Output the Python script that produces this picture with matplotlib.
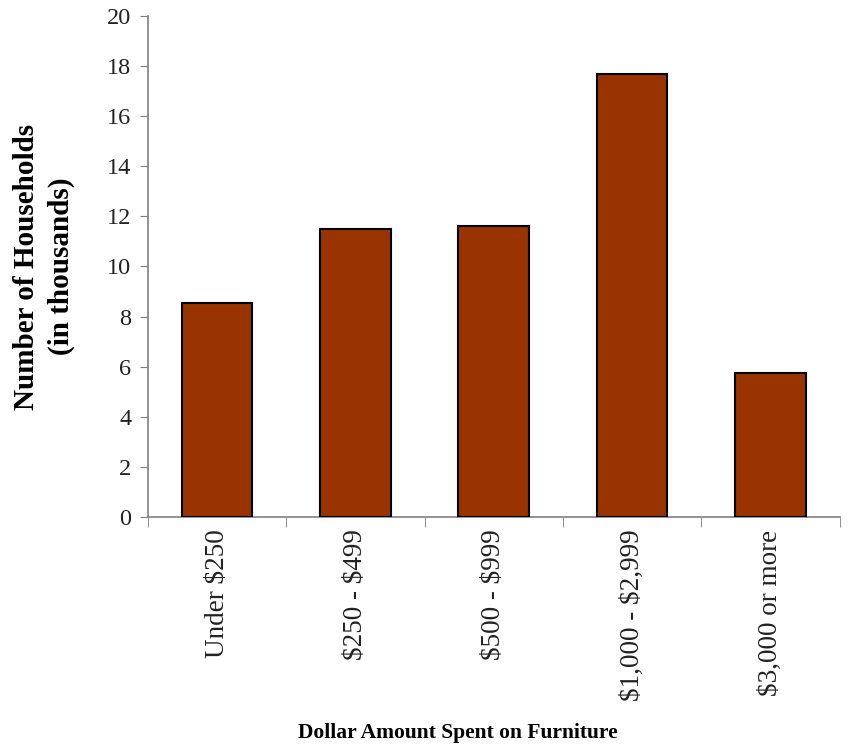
import matplotlib
matplotlib.use("Agg")
import matplotlib.pyplot as plt
import numpy as np

categories = ["Under $250", "$250 - $499", "$500 - $999", "$1,000 - $2,999", "$3,000 or more"]
households = [8.55, 11.5, 11.6, 17.7, 5.75]
y_ticks = [0, 2, 4, 6, 8, 10, 12, 14, 16, 18, 20]

plt.rcParams['font.family'] = ['Liberation Serif', 'DejaVu Serif']
plt.rcParams['text.parse_math'] = False

fig = plt.figure(figsize=(8.48, 7.47), dpi=100)
ax = fig.add_axes([0.1745, 0.3079, 0.8155, 0.6707])

x = np.arange(len(categories))
ax.bar(x, households, width=0.51, color='#993300', edgecolor='black', linewidth=1.5, zorder=3)

ax.set_xlim(-0.5, len(categories) - 0.5)
ax.set_ylim(0, 20)
ax.set_yticks(y_ticks)
ax.set_yticklabels([str(t) for t in y_ticks], fontsize=17.5, color='#222222')

ax.set_xticks(x)
ax.set_xticklabels(categories, rotation=90, fontsize=19.5, color='#222222')
ax.tick_params(axis='x', which='major', length=0, pad=9)
ax.set_xticks(np.arange(len(categories) + 1) - 0.5, minor=True)
ax.tick_params(axis='x', which='minor', length=7, color='#808080', direction='out')
ax.tick_params(axis='y', length=6, color='#808080', direction='out', pad=6)

for s in ['top', 'right']:
    ax.spines[s].set_visible(False)
for s in ['left', 'bottom']:
    ax.spines[s].set_color('#808080')
    ax.spines[s].set_linewidth(1.2)

# y label drawn as figure text so it sits right at the left edge like the original
fig.text(0.052, 0.643, "Number of Households\n(in thousands)", rotation=90, ha='center', va='center',
         fontsize=21, fontweight='bold', linespacing=1.35, multialignment='center')
fig.text(0.54, 0.019, "Dollar Amount Spent on Furniture", ha='center', va='center',
         fontsize=15.5, fontweight='bold')

fig.savefig("out.png", dpi=100)
